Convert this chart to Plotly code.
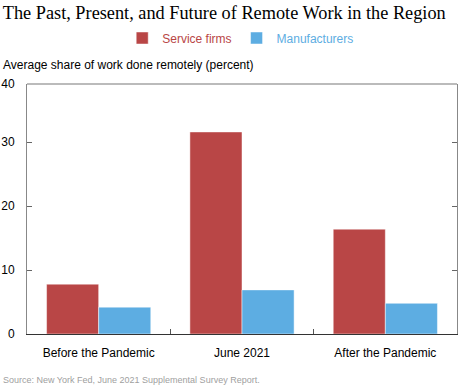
import plotly.graph_objects as go

categories = ["Before the Pandemic", "June 2021", "After the Pandemic"]
service_firms = [7.8, 31.6, 16.4]
manufacturers = [4.2, 6.9, 4.8]
y_tickvals = [0, 10, 20, 30, 39.1]
y_ticktext = ["0", "10", "20", "30", "40"]

RED = "#B94646"
BLUE = "#5DADE2"

fig = go.Figure()
fig.add_trace(go.Bar(
    x=categories, y=service_firms,
    name=f"<span style='color:{RED}'>Service firms</span>",
    marker=dict(color=RED, line=dict(color="rgba(255,255,255,0.6)", width=0.8)),
))
fig.add_trace(go.Bar(
    x=categories, y=manufacturers,
    name=f"<span style='color:{BLUE}'>Manufacturers</span>",
    marker=dict(color=BLUE, line=dict(color="rgba(255,255,255,0.6)", width=0.8)),
))

fig.update_layout(
    width=461, height=387,
    margin=dict(l=27, r=4, t=84, b=53, autoexpand=False),
    paper_bgcolor="white", plot_bgcolor="white",
    barmode="group", bargap=0.273, bargroupgap=0,
    font=dict(family="Liberation Sans, Arial, sans-serif", size=12, color="black"),
    title=dict(
        text="The Past, Present, and Future of Remote Work in the Region",
        font=dict(family="Liberation Serif, Times New Roman, serif", size=18.3, color="black"),
        x=0.006, xref="container", xanchor="left",
        y=1 - 13 / 387, yref="container", yanchor="middle",
    ),
    legend=dict(
        orientation="h", x=0.497, xanchor="center", y=1.184, yanchor="middle",
        font=dict(size=12), itemwidth=30, traceorder="normal",
        bgcolor="rgba(0,0,0,0)",
    ),
    showlegend=True,
)

fig.update_xaxes(
    showline=True, linecolor="#333333", linewidth=1,
    ticks="inside", tickson="boundaries", ticklen=5, tickcolor="#555555",
    showgrid=False, tickfont=dict(size=12, color="black"), automargin=False,
    ticklabelstandoff=8,
)
fig.update_yaxes(
    range=[0, 39.1], tickvals=y_tickvals, ticktext=y_ticktext,
    showline=True, linecolor="#888888", linewidth=1, mirror="ticks",
    ticks="inside", ticklen=5, tickcolor="#666666",
    showgrid=False, zeroline=False, tickfont=dict(size=12, color="black"),
    ticklabelstandoff=9, automargin=False,
)

# top frame line
fig.add_shape(type="line", xref="paper", yref="paper", x0=0, x1=1, y0=1, y1=1,
              line=dict(color="#BBBBBB", width=2))

fig.add_annotation(
    text="Average share of work done remotely (percent)",
    xref="paper", yref="paper", x=(1 - 27) / 430, y=1 + (84 - 65) / 250,
    xanchor="left", yanchor="middle", showarrow=False,
    font=dict(size=12, color="black"),
)
fig.add_annotation(
    text="Source: New York Fed, June 2021 Supplemental Survey Report.",
    xref="paper", yref="paper", x=(1 - 27) / 430, y=(334 - 380) / 250,
    xanchor="left", yanchor="middle", showarrow=False,
    font=dict(size=9, color="#A0A0A0"),
)

fig.write_html("out.html", config={"displayModeBar": False},
               post_script="document.body.style.margin='0';")
